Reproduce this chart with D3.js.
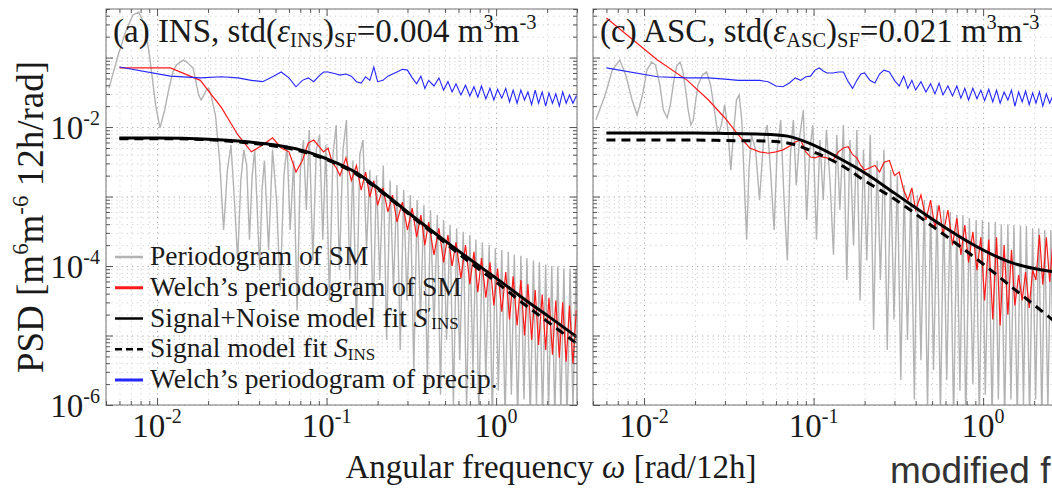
<!DOCTYPE html>
<html>
<head>
<meta charset="utf-8">
<script src="https://cdn.jsdelivr.net/npm/d3@7"></script>
<style>
  body { margin: 0; background: #fff; }
  svg { display: block; font-family: "Liberation Serif", "Times New Roman", serif; }
</style>
</head>
<body>
<div id="chart"></div>
<script>
// ---------------- DATA ----------------
// model fits, sampled at these frequencies [rad/12h]
var modelFreq = [0.006, 0.01, 0.02, 0.03, 0.05, 0.07, 0.1, 0.15, 0.2, 0.3, 0.5, 0.7, 1.0, 1.5, 2.0, 3.0];
var fitNoiseA  = [6.95e-3, 6.95e-3, 6.7e-3, 6.3e-3, 5.5e-3, 4.7e-3, 3.5e-3, 2.2e-3, 1.33e-3, 6.0e-4, 2.3e-4, 1.25e-4, 6.7e-5, 3.2e-5, 1.95e-5, 9.5e-6];
var fitSignalA = [6.8e-3, 6.8e-3, 6.6e-3, 6.1e-3, 5.3e-3, 4.5e-3, 3.4e-3, 2.1e-3, 1.28e-3, 5.8e-4, 2.15e-4, 1.13e-4, 5.9e-5, 2.7e-5, 1.6e-5, 7.6e-6];
var fitNoiseC  = [8.2e-3, 8.2e-3, 8.2e-3, 8.1e-3, 7.9e-3, 7.4e-3, 5.5e-3, 3.3e-3, 2.2e-3, 1.12e-3, 4.75e-4, 2.8e-4, 1.7e-4, 1.1e-4, 9.2e-5, 7.9e-5];
var fitSignalC = [6.5e-3, 6.5e-3, 6.5e-3, 6.4e-3, 6.3e-3, 5.9e-3, 4.4e-3, 2.7e-3, 1.7e-3, 9.2e-4, 3.77e-4, 2.07e-4, 1.07e-4, 4.82e-5, 2.75e-5, 1.24e-5];

// Welch periodograms (SM and precipitation)
var welchFreq = [0.006,0.012,0.018,0.024,0.030,0.036,0.042,0.048,0.054,0.060,
  0.066,0.072,0.078,0.084,0.090,0.096,0.102,0.108,0.114,0.120,
  0.13,0.14,0.15,0.16,0.17,0.18,0.19,0.20,0.215,0.23,
  0.245,0.26,0.28,0.30,0.32,0.34,0.36,0.38,0.40,0.43,
  0.46,0.49,0.52,0.55,0.58,0.62,0.66,0.70,0.74,0.78,
  0.82,0.87,0.92,0.97,1.02,1.08,1.14,1.20,1.26,1.33,
  1.40,1.47,1.54,1.62,1.70,1.78,1.87,1.96,2.05,2.15,
  2.25,2.36,2.47,2.59,2.71,2.84,2.97,3.10];
var welchSmA = [0.071,0.071,0.047,0.019,0.0077,0.0044,0.0055,0.0070,0.0050,0.0044,
  0.00225,0.0033,0.0059,0.0065,0.0053,0.0044,0.0050,0.0031,0.0026,0.0020,
  0.0036,0.0017,0.0028,0.00124,0.00225,9.8e-4,0.0017,7.5e-4,1.33e-3,6.0e-4,
  1.05e-3,4.3e-4,8.3e-4,3.3e-4,6.8e-4,2.6e-4,5.4e-4,2.0e-4,4.3e-4,1.45e-4,
  3.5e-4,1.13e-4,2.8e-4,1.0e-4,2.2e-4,6.7e-5,2.0e-4,5.5e-5,1.6e-4,4.2e-5,
  1.3e-4,3.5e-5,1.13e-4,2.7e-5,9.2e-5,2.2e-5,8.2e-5,1.7e-5,7.1e-5,1.4e-5,
  6.3e-5,1.0e-5,5.5e-5,8.6e-6,4.5e-5,7.3e-6,3.9e-5,6.2e-6,3.5e-5,5.3e-6,
  3.2e-5,4.8e-6,3.0e-5,4.2e-6,2.7e-5,3.9e-6,2.3e-5,8.6e-6];
var welchPrecipA = [0.073,0.054,0.051,0.053,0.051,0.047,0.045,0.053,0.062,0.051,
  0.038,0.047,0.051,0.045,0.054,0.062,0.062,0.060,0.058,0.056,
  0.058,0.054,0.045,0.043,0.053,0.047,0.073,0.045,0.047,0.054,
  0.058,0.062,0.068,0.066,0.051,0.042,0.054,0.036,0.047,0.039,
  0.051,0.034,0.045,0.032,0.042,0.029,0.040,0.028,0.038,0.027,
  0.039,0.0255,0.036,0.0245,0.035,0.026,0.036,0.023,0.034,0.022,
  0.034,0.0245,0.032,0.021,0.034,0.022,0.032,0.020,0.031,0.022,
  0.030,0.020,0.032,0.022,0.029,0.022,0.028,0.0245];
var welchSmC = [0.37,0.092,0.047,0.0245,0.0135,0.0077,0.0050,0.0044,0.0042,0.0044,
  0.0047,0.0053,0.0061,0.0065,0.0044,0.0037,0.0036,0.0038,0.0037,0.0036,
  0.0033,0.0044,0.0050,0.0052,0.0040,0.0036,0.0028,0.0024,0.0026,0.0028,
  0.00225,0.0031,0.0033,0.0020,0.00225,0.00124,8.9e-4,1.33e-3,6.4e-4,1.05e-3,
  4.6e-4,8.9e-4,3.5e-4,7.5e-4,2.8e-4,6.4e-4,2.0e-4,4.9e-4,1.45e-4,3.9e-4,
  1.13e-4,3.1e-4,8.7e-5,2.6e-4,3.2e-5,2.4e-4,1.7e-5,2.6e-4,1.4e-5,2.0e-4,
  2.0e-5,1.7e-4,2.7e-5,7.4e-5,3.2e-5,8.2e-5,2.5e-5,8.7e-5,6.3e-5,2.8e-4,
  5.4e-5,2.6e-4,5.9e-5,2.4e-4,4.5e-5,2.0e-4,5.4e-5,1.7e-4];
var welchPrecipC = [0.071,0.053,0.051,0.051,0.049,0.047,0.047,0.047,0.045,0.039,
  0.038,0.043,0.051,0.047,0.053,0.054,0.066,0.071,0.064,0.060,
  0.060,0.062,0.062,0.045,0.036,0.047,0.058,0.060,0.047,0.043,
  0.058,0.066,0.062,0.047,0.039,0.054,0.036,0.047,0.034,0.045,
  0.032,0.042,0.030,0.043,0.029,0.039,0.028,0.039,0.026,0.036,
  0.0245,0.036,0.0255,0.034,0.024,0.035,0.023,0.034,0.022,0.032,
  0.0245,0.034,0.020,0.032,0.023,0.033,0.021,0.031,0.022,0.032,
  0.020,0.030,0.022,0.029,0.022,0.028,0.023,0.026];

// raw periodograms of SM
var greyFreq = [0.0052,0.0059,0.0065,0.0072,0.0078,0.0085,0.0091,0.0098,0.0104,0.0111,
  0.0117,0.0124,0.013,0.0137,0.0143,0.015,0.0156,0.0163,0.0169,0.0176,
  0.0182,0.0189,0.0195,0.0202,0.0208,0.0221,0.0234,0.0247,0.026,0.0273,
  0.0286,0.0299,0.0312,0.0325,0.0338,0.0351,0.0364,0.0377,0.039,0.0403,
  0.0416,0.043,0.0455,0.048,0.0507,0.0533,0.056,0.0585,0.061,0.064,
  0.067,0.070,0.073,0.076,0.079,0.083,0.087,0.091,0.095,0.099,
  0.104,0.109,0.114,0.119,0.125,0.131,0.137,0.143,0.15,0.157,
  0.164,0.172,0.18,0.188,0.197,0.206,0.216,0.226,0.237,0.248,
  0.26,0.272,0.285,0.298,0.312,0.327,0.342,0.358,0.375,0.393,
  0.41,0.43,0.45,0.47,0.49,0.51,0.535,0.56,0.585,0.61,
  0.64,0.67,0.70,0.73,0.76,0.79,0.83,0.87,0.91,0.95,
  0.99,1.03,1.08,1.13,1.18,1.23,1.28,1.34,1.40,1.46,
  1.52,1.59,1.66,1.73,1.80,1.88,1.96,2.04,2.13,2.22,
  2.31,2.41,2.51,2.62,2.73,2.84,2.96,3.08];
var periodA = [0.036,0.109,0.23,0.41,0.45,0.29,0.092,0.021,0.0097,0.0176,
  0.034,0.062,0.078,0.086,0.092,0.086,0.078,0.071,0.047,0.029,
  0.0245,0.029,0.034,0.036,0.029,0.0149,0.0033,3.3e-4,0.0024,0.0055,
  8.9e-4,1.2e-4,0.0017,0.0047,0.0028,2.4e-4,0.0020,0.0047,6.4e-4,8.7e-5,
  0.00124,0.0033,1.7e-4,0.0047,8.9e-4,4.5e-5,0.0020,0.0055,3.3e-4,0.0033,
  2.3e-5,0.0024,0.0065,6.4e-4,0.0091,1.2e-4,0.0047,0.0077,2.4e-4,0.0055,
  3.2e-5,0.0040,0.0107,8.7e-5,0.0047,0.0126,6.3e-5,0.0033,1.2e-5,0.0040,
  0.0065,1.7e-4,0.0024,1.7e-5,0.0020,6.3e-5,0.0028,8.6e-6,0.0017,4.5e-5,
  0.00146,6.2e-6,0.00124,3.2e-5,0.00105,3.2e-6,8.9e-4,1.7e-5,7.5e-4,2.3e-6,
  6.4e-4,1.2e-5,5.4e-4,1.4e-6,4.6e-4,8.6e-6,3.9e-4,1.0e-6,3.5e-4,4.4e-6,
  3.1e-4,8.5e-7,2.8e-4,3.2e-6,2.4e-4,7.2e-7,2.2e-4,2.3e-6,2.0e-4,6.1e-7,
  1.8e-4,1.6e-6,1.7e-4,6.1e-7,1.6e-4,1.4e-6,1.45e-4,6.1e-7,1.4e-4,1.2e-6,
  1.3e-4,6.1e-7,1.2e-4,1.0e-6,1.13e-4,6.1e-7,1.05e-4,8.5e-7,1.0e-4,6.1e-7,
  9.8e-5,8e-7,9.2e-5,6.1e-7,9.2e-5,8.5e-7,8.7e-5,1.2e-6];
var periodC = [0.0126,0.029,0.066,0.092,0.056,0.0245,0.0149,0.029,0.066,0.086,
  0.078,0.040,0.0176,0.0135,0.021,0.047,0.076,0.086,0.066,0.034,
  0.0176,0.0107,0.0126,0.0245,0.040,0.056,0.062,0.040,0.0176,0.0077,
  0.0107,0.021,0.0091,0.0024,0.0091,0.0245,0.029,0.0126,0.0017,2.4e-4,
  0.0024,0.0077,0.0047,8.9e-4,0.0065,0.0107,0.0020,3.3e-4,0.0047,0.0126,
  8.9e-4,1.2e-4,0.0040,0.0126,0.00146,0.0077,0.0176,4.6e-4,0.0047,0.0107,
  2.4e-4,0.0065,8.9e-4,0.0091,0.0017,1.45e-4,0.0077,6.4e-4,0.0107,6.3e-5,
  0.0065,2.0e-4,0.0091,3.2e-5,0.0047,1.2e-4,0.0077,1.2e-5,0.0033,6.3e-5,
  0.0047,6.2e-6,0.0024,1.7e-5,0.0020,2.3e-6,0.00146,8.6e-6,0.00124,1.2e-6,
  0.00105,4.4e-6,8.9e-4,8.5e-7,7.5e-4,3.2e-6,7.5e-4,7.2e-7,6.4e-4,2.3e-6,
  6.0e-4,6.1e-7,5.4e-4,1.6e-6,5.4e-4,6.1e-7,4.9e-4,2.0e-6,4.6e-4,6.1e-7,
  4.6e-4,1.4e-6,4.3e-4,6.1e-7,4.3e-4,1.2e-6,4.0e-4,6.1e-7,4.0e-4,1.2e-6,
  3.9e-4,6.1e-7,3.8e-4,1.0e-6,3.8e-4,6.1e-7,3.5e-4,1.2e-6,3.5e-4,6.1e-7,
  3.3e-4,8.5e-7,3.3e-4,6.1e-7,3.1e-4,8.5e-7,3.1e-4,6.1e-7];

// axis ticks and texts
var xMajor = [0.01, 0.1, 1];
var xMajorExp = ["-2", "-1", "0"];
var yMajor = [1e-6, 1e-4, 1e-2];
var yMajorExp = ["-6", "-4", "-2"];
var legendNames = [
  [["Periodogram of SM"]],
  [["Welch\u2019s periodogram of SM"]],
  [["Signal+Noise model fit "], ["S", "i"], ["\u2032", "sup"], ["INS", "sub"]],
  [["Signal model fit "], ["S", "i"], ["INS", "sub"]],
  [["Welch\u2019s periodogram of precip."]]
];

// ---------------- LAYOUT ----------------
var W = 1052, H = 491;
var plotTop = 9, plotBottom = 405, plotWidth = 471;
var panelLeft = [106, 593];
var greyCol = "#b3b3b3", redCol = "#ff1a1a", blueCol = "#2626ff";

var svg = d3.select("#chart").append("svg")
  .attr("width", W).attr("height", H);

var y = d3.scaleLog().domain([1e-6, 0.5]).range([plotBottom, plotTop]);

// rich text helper: parts = [[text, "sub"|"sup"|"i"], ...]
function rich(sel, parts, size, subK, supK) {
  subK = subK || 0.16; supK = supK || 0.4;
  var shift = 0;
  parts.forEach(function (p) {
    var kind = p[1] || "";
    var target = kind == "sub" ? size * subK : (kind == "sup" ? -size * supK : 0);
    var ts = sel.append("tspan").text(p[0]).attr("dy", target - shift);
    shift = target;
    if (kind == "sub" || kind == "sup") ts.style("font-size", (size * 0.62) + "px");
    if (kind == "i" || p[2] == "i") ts.style("font-style", "italic");
  });
}

function isMajor(v) {
  var l = Math.log10(v);
  return Math.abs(l - Math.round(l)) < 1e-6;
}

function drawPanel(i, cfg) {
  var left = panelLeft[i];
  var x = d3.scaleLog().domain([0.005, 3.0]).range([left, left + plotWidth]);
  var g = svg.append("g");

  svg.append("clipPath").attr("id", "clip" + i)
    .append("rect").attr("x", left).attr("y", plotTop)
    .attr("width", plotWidth).attr("height", plotBottom - plotTop);

  // grid (dotted, major a bit darker)
  var gx = g.append("g").attr("transform", "translate(0," + plotBottom + ")")
    .call(d3.axisBottom(x).tickValues(x.ticks()).tickSize(-(plotBottom - plotTop)).tickFormat(""));
  var gy = g.append("g").attr("transform", "translate(" + left + ",0)")
    .call(d3.axisLeft(y).tickValues(y.ticks()).tickSize(-plotWidth).tickFormat(""));
  [gx, gy].forEach(function (a) {
    a.select(".domain").remove();
    a.selectAll(".tick line")
      .attr("stroke", function (d) { return isMajor(d) ? "#a8a8a8" : "#cfcfcf"; })
      .attr("stroke-dasharray", "1.2,4");
  });

  var plot = g.append("g").attr("clip-path", "url(#clip" + i + ")");
  var line = d3.line().x(function (d) { return x(d[0]); }).y(function (d) { return y(d[1]); });
  var smooth = d3.line().curve(d3.curveMonotoneX)
    .x(function (d) { return x(d[0]); }).y(function (d) { return y(d[1]); });

  plot.append("path").datum(d3.zip(greyFreq, cfg.period))
    .attr("d", line).attr("fill", "none").attr("stroke", greyCol).attr("stroke-width", 1.4);
  plot.append("path").datum(d3.zip(welchFreq, cfg.welch))
    .attr("d", line).attr("fill", "none").attr("stroke", redCol).attr("stroke-width", 1.2);
  plot.append("path").datum(d3.zip(welchFreq, cfg.precip))
    .attr("d", line).attr("fill", "none").attr("stroke", blueCol).attr("stroke-width", 1.1);
  plot.append("path").datum(d3.zip(modelFreq, cfg.noise))
    .attr("d", smooth).attr("fill", "none").attr("stroke", "#000").attr("stroke-width", 3);
  plot.append("path").datum(d3.zip(modelFreq, cfg.signal))
    .attr("d", smooth).attr("fill", "none").attr("stroke", "#000").attr("stroke-width", 3)
    .attr("stroke-dasharray", "9,6");

  // box and inner ticks on all four sides
  g.append("rect").attr("x", left).attr("y", plotTop)
    .attr("width", plotWidth).attr("height", plotBottom - plotTop)
    .attr("fill", "none").attr("stroke", "#8a8a8a").attr("stroke-width", 1.2);

  var sides = [
    { axis: d3.axisBottom(x), tr: "translate(0," + plotBottom + ")", sc: x, attr: "y2", sign: -1 },
    { axis: d3.axisTop(x), tr: "translate(0," + plotTop + ")", sc: x, attr: "y2", sign: 1 },
    { axis: d3.axisLeft(y), tr: "translate(" + left + ",0)", sc: y, attr: "x2", sign: 1 },
    { axis: d3.axisRight(y), tr: "translate(" + (left + plotWidth) + ",0)", sc: y, attr: "x2", sign: -1 }
  ];
  sides.forEach(function (s) {
    var ax = g.append("g").attr("transform", s.tr)
      .call(s.axis.tickValues(s.sc.ticks()).tickFormat(""));
    ax.select(".domain").remove();
    ax.selectAll(".tick line").attr("stroke", "#555")
      .attr(s.attr, function (d) { return s.sign * (isMajor(d) ? 7 : 4); });
  });

  // x tick labels
  xMajor.forEach(function (v, k) {
    var t = g.append("text").attr("x", x(v)).attr("y", 437)
      .attr("text-anchor", "middle").attr("fill", "#1a1a1a").style("font-size", "33px");
    t.append("tspan").text("10");
    t.append("tspan").text(xMajorExp[k]).attr("dy", -14).style("font-size", "20px");
  });

  // title
  var tt = g.append("text").attr("x", left + 7).attr("y", 42)
    .attr("fill", "#1a1a1a").style("font-size", "33px");
  rich(tt, cfg.title, 33);

  return x;
}

drawPanel(0, {
  period: periodA, welch: welchSmA, precip: welchPrecipA, noise: fitNoiseA, signal: fitSignalA,
  title: [["(a) INS, std("], ["\u03b5", "", "i"], ["INS", "sub"], [")"], ["SF", "sub"], ["=0.004 m"], ["3", "sup"], ["m"], ["-3", "sup"]]
});
drawPanel(1, {
  period: periodC, welch: welchSmC, precip: welchPrecipC, noise: fitNoiseC, signal: fitSignalC,
  title: [["(c) ASC, std("], ["\u03b5", "", "i"], ["ASC", "sub"], [")"], ["SF", "sub"], ["=0.021 m"], ["3", "sup"], ["m"], ["-3", "sup"]]
});

// y tick labels (left panel only)
yMajor.forEach(function (v, k) {
  var t = svg.append("text").attr("x", 100).attr("y", y(v) + 12)
    .attr("text-anchor", "end").attr("fill", "#1a1a1a").style("font-size", "33px");
  t.append("tspan").text("10");
  t.append("tspan").text(yMajorExp[k]).attr("dy", -14).style("font-size", "20px");
});

// y axis title
var yl = svg.append("text").attr("transform", "translate(43,217) rotate(-90)")
  .attr("text-anchor", "middle").attr("fill", "#1a1a1a").style("font-size", "37px");
rich(yl, [["PSD [m"], ["6", "sup"], ["m"], ["-6", "sup"], [" 12h/rad]"]], 37);

// x axis title
var xl = svg.append("text").attr("x", 551).attr("y", 478)
  .attr("text-anchor", "middle").attr("fill", "#1a1a1a").style("font-size", "33px");
rich(xl, [["Angular frequency "], ["\u03c9", "", "i"], [" [rad/12h]"]], 33);

// legend (left panel)
var legStyles = [
  { c: greyCol, w: 2.5, d: null },
  { c: redCol, w: 3, d: null },
  { c: "#000", w: 2.5, d: null },
  { c: "#000", w: 2.5, d: "7,4" },
  { c: blueCol, w: 3, d: null }
];
legendNames.forEach(function (parts, k) {
  var by = 265 + 30.75 * k;
  var st = legStyles[k];
  svg.append("line").attr("x1", 115).attr("x2", 143).attr("y1", by - 8).attr("y2", by - 8)
    .attr("stroke", st.c).attr("stroke-width", st.w).attr("stroke-dasharray", st.d);
  var t = svg.append("text").attr("x", 150).attr("y", by)
    .attr("fill", "#1a1a1a").style("font-size", "27.5px");
  rich(t, parts, 27.5, 0.09, 0.28);
});

// cropped source note
svg.append("text").attr("x", 890).attr("y", 483)
  .style("font-family", "'Liberation Sans', Arial, sans-serif").style("font-size", "37px")
  .attr("fill", "#333").text("modified f");
</script>
</body>
</html>
